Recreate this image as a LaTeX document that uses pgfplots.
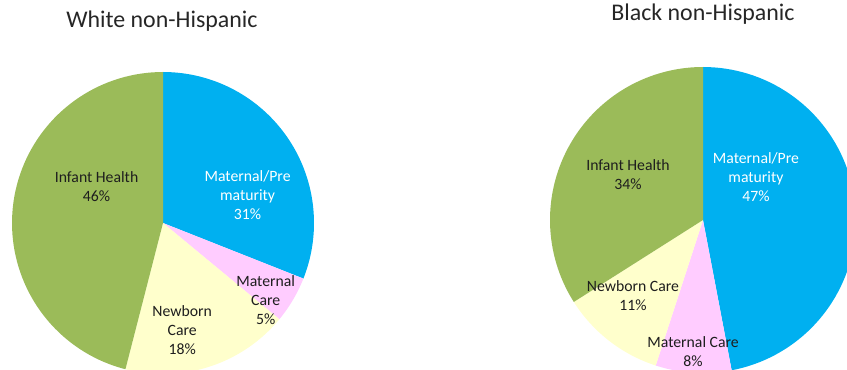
\documentclass[border=0pt]{standalone}
\usepackage{pgfplots}
\usepackage{pgfplotstable}
\pgfplotsset{compat=1.18}
\usepackage{fontspec}
\setmainfont{Carlito}
\definecolor{cgreen}{HTML}{9BBB59}
\definecolor{cblue}{HTML}{00B0F0}
\definecolor{cpink}{HTML}{FFCCFF}
\definecolor{cyellow}{HTML}{FFFFCC}
\definecolor{ctext}{HTML}{1E1E1E}
\definecolor{ctitle}{HTML}{262626}

% percentages, clockwise from 12 o'clock
\pgfplotstableread{
cat pct
MaternalPrematurity 31
MaternalCare 5
NewbornCare 18
InfantHealth 46
}\whitedata
\pgfplotstableread{
cat pct
MaternalPrematurity 47
MaternalCare 8
NewbornCare 11
InfantHealth 34
}\blackdata

\pgfplotsset{
  pieax/.style={hide axis, x=#1, y=#1, xmin=-1, xmax=1, ymin=-1, ymax=1,
    anchor=center, clip=false},
  wedge/.style={fill=#1, draw=none, samples=80, variable=\t},
}
\tikzset{lbl/.style={align=center, font=\fontsize{15.8}{19}\selectfont, text=ctext}}

\begin{document}
\begin{tikzpicture}
\useasboundingbox (0,0) rectangle (847bp,370bp);
\clip (0,0) rectangle (847bp,370bp);
\pgfplotstablegetelem{0}{pct}\of\whitedata\pgfmathsetmacro\angWa{90-3.6*\pgfplotsretval}
\pgfplotstablegetelem{1}{pct}\of\whitedata\pgfmathsetmacro\angWb{\angWa-3.6*\pgfplotsretval}
\pgfplotstablegetelem{2}{pct}\of\whitedata\pgfmathsetmacro\angWc{\angWb-3.6*\pgfplotsretval}
\pgfplotstablegetelem{3}{pct}\of\whitedata\pgfmathsetmacro\angWd{\angWc-3.6*\pgfplotsretval}
\pgfplotstablegetelem{0}{pct}\of\blackdata\pgfmathsetmacro\angBa{90-3.6*\pgfplotsretval}
\pgfplotstablegetelem{1}{pct}\of\blackdata\pgfmathsetmacro\angBb{\angBa-3.6*\pgfplotsretval}
\pgfplotstablegetelem{2}{pct}\of\blackdata\pgfmathsetmacro\angBc{\angBb-3.6*\pgfplotsretval}
\pgfplotstablegetelem{3}{pct}\of\blackdata\pgfmathsetmacro\angBd{\angBc-3.6*\pgfplotsretval}

\node[anchor=base, font=\fontsize{24}{27}\selectfont, text=ctitle] at (162bp,342bp) {White non-Hispanic};
\node[anchor=base, font=\fontsize{24}{27}\selectfont, text=ctitle] at (703bp,349bp) {Black non-Hispanic};

\begin{axis}[pieax=151bp, at={(163bp,147bp)}]
\addplot[wedge=cblue, domain=\angWa:90] ({cos(\t)},{sin(\t)}) -- (axis cs:0,0) -- cycle;
\addplot[wedge=cpink, domain=\angWb:\angWa] ({cos(\t)},{sin(\t)}) -- (axis cs:0,0) -- cycle;
\addplot[wedge=cyellow, domain=\angWc:\angWb] ({cos(\t)},{sin(\t)}) -- (axis cs:0,0) -- cycle;
\addplot[wedge=cgreen, domain=\angWd:\angWc] ({cos(\t)},{sin(\t)}) -- (axis cs:0,0) -- cycle;
\node[lbl] at (axis cs:-0.44,0.243) {Infant Health\\46\%};
\node[lbl, text=white] at (axis cs:0.56,0.187) {Maternal/Pre\\maturity\\31\%};
\node[lbl] at (axis cs:0.68,-0.513) {Maternal\\Care\\5\%};
\node[lbl] at (axis cs:0.127,-0.707) {Newborn\\Care\\18\%};
\end{axis}

\begin{axis}[pieax=153bp, at={(703bp,150bp)}]
\addplot[wedge=cblue, domain=\angBa:90] ({cos(\t)},{sin(\t)}) -- (axis cs:0,0) -- cycle;
\addplot[wedge=cpink, domain=\angBb:\angBa] ({cos(\t)},{sin(\t)}) -- (axis cs:0,0) -- cycle;
\addplot[wedge=cyellow, domain=\angBc:\angBb] ({cos(\t)},{sin(\t)}) -- (axis cs:0,0) -- cycle;
\addplot[wedge=cgreen, domain=\angBd:\angBc] ({cos(\t)},{sin(\t)}) -- (axis cs:0,0) -- cycle;
\node[lbl] at (axis cs:-0.49,0.297) {Infant Health\\34\%};
\node[lbl, text=white] at (axis cs:0.346,0.278) {Maternal/Pre\\maturity\\47\%};
\node[lbl] at (axis cs:-0.458,-0.497) {Newborn Care\\11\%};
\node[lbl] at (axis cs:-0.065,-0.859) {Maternal Care\\8\%};
\end{axis}
\end{tikzpicture}
\end{document}
